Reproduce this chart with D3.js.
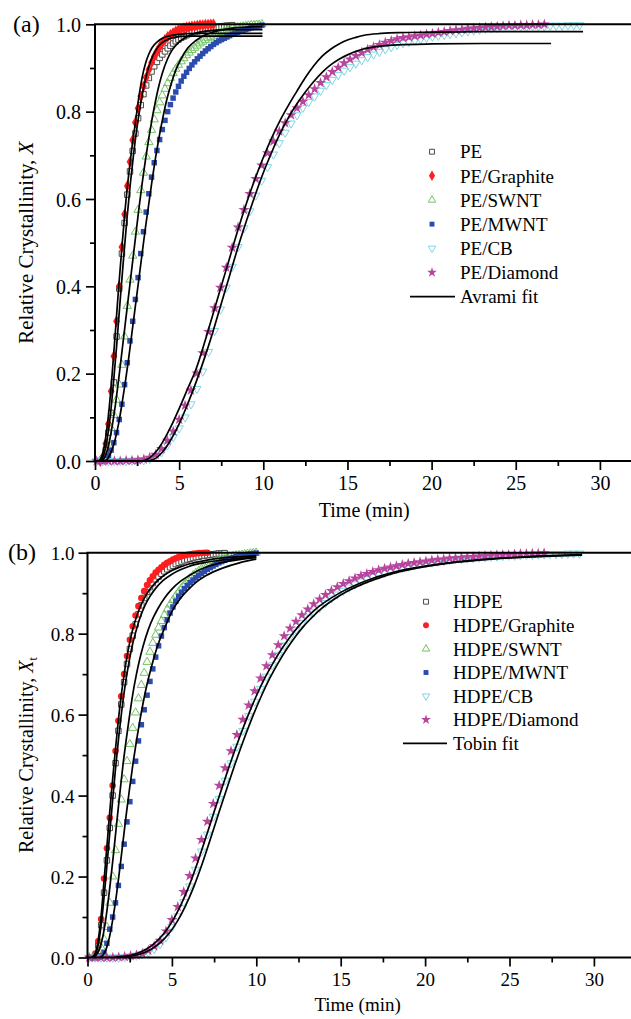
<!DOCTYPE html>
<html><head><meta charset="utf-8">
<script src="https://cdn.jsdelivr.net/npm/d3@7"></script>
<style>
html,body{margin:0;padding:0;background:#fff;}
svg{display:block;}
text{font-family:"Liberation Serif","Times New Roman",serif;fill:#000;}
</style></head><body>
<svg id="chart" width="631" height="1019"></svg>
<script>
// ---------- shared ticks ----------
const xMajorTicks = [0, 5, 10, 15, 20, 25, 30];
const xMinorTicks = [2.5, 7.5, 12.5, 17.5, 22.5, 27.5];
const yMajorTicks = [0.0, 0.2, 0.4, 0.6, 0.8, 1.0];
const yMinorTicks = [0.1, 0.3, 0.5, 0.7, 0.9];

// ---------- time grids ----------
const tFastA = [0.32,0.48,0.64,0.8,0.96,1.12,1.28,1.44,1.6,1.76,1.92,2.08,2.24,2.4,2.56,2.72,2.88,3.04,3.2,3.36,3.52,3.68,3.84,4.0,4.16,4.32,4.48,4.64,4.8,4.96,5.12,5.28,5.44,5.6,5.76,5.92,6.08,6.24,6.4,6.56,6.72,6.88,7.04,7.2,7.36,7.52,7.68,7.84,8.0,8.16,8.32,8.48,8.64,8.8,8.96,9.12,9.28,9.44,9.6,9.76,9.92];
const tSlow = [0.1,0.45,0.8,1.15,1.5,1.85,2.2,2.55,2.9,3.25,3.6,3.95,4.3,4.65,5.0,5.35,5.7,6.05,6.4,6.75,7.1,7.45,7.8,8.15,8.5,8.85,9.2,9.55,9.9,10.25,10.6,10.95,11.3,11.65,12.0,12.35,12.7,13.05,13.4,13.75,14.1,14.45,14.8,15.15,15.5,15.85,16.2,16.55,16.9,17.25,17.6,17.95,18.3,18.65,19.0,19.35,19.7,20.05,20.4,20.75,21.1,21.45,21.8,22.15,22.5,22.85,23.2,23.55,23.9,24.25,24.6,24.95,25.3,25.65,26.0,26.35,26.7,27.05,27.4,27.75,28.1,28.45,28.8,29.15];

// ---------- panel (a): measured X ----------
const peA = [0.0,0.005,0.025,0.065,0.11,0.18,0.285,0.395,0.475,0.545,0.61,0.663,0.71,0.75,0.785,0.815,0.84,0.86,0.877,0.892,0.904,0.914,0.923,0.931,0.938,0.945,0.951,0.956,0.961,0.965,0.969,0.972,0.975,0.978,0.98,0.982,0.984,0.986,0.987,0.989,0.99,0.991,0.992,0.993,0.994,0.995,0.996,0.997,0.997,0.998];
const graphiteA = [0.0,0.01,0.04,0.085,0.16,0.24,0.32,0.4,0.49,0.565,0.63,0.685,0.735,0.775,0.808,0.835,0.858,0.878,0.896,0.912,0.926,0.938,0.948,0.957,0.965,0.971,0.976,0.98,0.984,0.987,0.989,0.991,0.993,0.994,0.995,0.996,0.997,0.998,0.998,0.999,0.999,1.0,1.0];
const swntA = [0,0.002,0.015,0.04,0.075,0.105,0.14,0.175,0.22,0.285,0.355,0.415,0.47,0.525,0.575,0.62,0.66,0.697,0.73,0.758,0.782,0.803,0.821,0.837,0.852,0.865,0.877,0.888,0.898,0.907,0.915,0.922,0.929,0.935,0.941,0.946,0.951,0.956,0.96,0.964,0.968,0.971,0.974,0.977,0.98,0.982,0.984,0.986,0.988,0.99,0.991,0.993,0.994,0.995,0.996,0.997,0.998,0.998,0.999,0.999,1.0];
const mwntA = [0,0,0.004,0.012,0.025,0.042,0.065,0.095,0.13,0.175,0.225,0.275,0.32,0.37,0.42,0.475,0.525,0.57,0.612,0.65,0.683,0.711,0.736,0.759,0.78,0.8,0.816,0.831,0.845,0.858,0.87,0.881,0.89,0.899,0.907,0.914,0.921,0.927,0.933,0.939,0.944,0.949,0.954,0.958,0.962,0.965,0.968,0.971,0.974,0.977,0.979,0.982,0.984,0.986,0.988,0.99,0.992,0.993,0.995,0.996,0.998];
const cbA = [0,0,0,0,0,0,0.001,0.001,0.002,0.005,0.01,0.02,0.036,0.055,0.075,0.1,0.13,0.165,0.205,0.25,0.298,0.347,0.397,0.445,0.49,0.533,0.572,0.608,0.642,0.673,0.702,0.728,0.752,0.773,0.792,0.809,0.822,0.835,0.848,0.861,0.873,0.884,0.894,0.902,0.91,0.918,0.925,0.931,0.937,0.943,0.948,0.953,0.957,0.96,0.963,0.966,0.969,0.972,0.974,0.976,0.978,0.98,0.982,0.984,0.986,0.988,0.99,0.991,0.992,0.993,0.994,0.994,0.995,0.995,0.996,0.996,0.996,0.997,0.997,0.997,0.998,0.998,0.998];
const diamondA = [0,0,0,0,0,0.001,0.001,0.002,0.004,0.008,0.015,0.028,0.047,0.068,0.095,0.127,0.162,0.201,0.247,0.296,0.35,0.397,0.443,0.489,0.535,0.575,0.612,0.646,0.677,0.705,0.732,0.755,0.774,0.792,0.808,0.823,0.838,0.852,0.866,0.879,0.891,0.901,0.911,0.92,0.928,0.935,0.942,0.948,0.953,0.958,0.962,0.966,0.969,0.971,0.973,0.975,0.977,0.979,0.981,0.983,0.985,0.987,0.988,0.99,0.991,0.992,0.993,0.994,0.995,0.996,0.997,0.997,0.998,0.998,0.999,0.999,1.0];

// ---------- panel (a): Avrami fits ----------
const fitGraphiteA_t = [0.25,0.4,0.6,0.8,1.0,1.2,1.4,1.6,1.8,2.0,2.2,2.4,2.6,2.8,3.0,3.2,3.4,3.7,4.0,4.5,5.0,6.0,9.95];
const fitGraphiteA_x = [0,0.01,0.045,0.105,0.19,0.29,0.395,0.49,0.58,0.655,0.72,0.775,0.832,0.878,0.91,0.932,0.947,0.96,0.968,0.974,0.977,0.979,0.979];
const fitPEA_t = [0.3,0.5,0.7,0.9,1.1,1.3,1.5,1.7,1.9,2.1,2.3,2.5,2.7,2.9,3.1,3.3,3.5,3.8,4.2,4.7,5.5,9.95];
const fitPEA_x = [0,0.012,0.045,0.1,0.18,0.27,0.37,0.465,0.555,0.635,0.705,0.765,0.815,0.857,0.89,0.915,0.933,0.951,0.963,0.97,0.973,0.973];
const fitSwntA_t = [0.4,0.6,0.8,1.0,1.2,1.4,1.6,1.8,2.0,2.2,2.4,2.6,2.8,3.0,3.2,3.4,3.6,3.8,4.0,4.3,4.6,5.0,5.5,6.0,7.0,8.0,9.95];
const fitSwntA_x = [0,0.01,0.035,0.075,0.125,0.185,0.25,0.315,0.38,0.445,0.51,0.575,0.635,0.69,0.74,0.785,0.825,0.86,0.888,0.92,0.942,0.96,0.972,0.98,0.986,0.988,0.988];
const fitMwntA_t = [0.6,0.8,1.0,1.2,1.4,1.6,1.8,2.0,2.2,2.4,2.6,2.8,3.0,3.2,3.4,3.6,3.8,4.0,4.25,4.5,4.8,5.1,5.5,6.0,6.5,7.0,8.0,9.95];
const fitMwntA_x = [0,0.008,0.025,0.05,0.085,0.13,0.18,0.235,0.295,0.355,0.415,0.475,0.535,0.59,0.645,0.695,0.74,0.78,0.825,0.86,0.895,0.92,0.945,0.963,0.975,0.982,0.99,0.995];
const fitSlow1A_t = [2.8,3.2,3.6,4.0,4.5,5.0,5.5,6.0,6.5,7.0,7.5,8.0,8.5,9.0,9.5,10.0,10.5,11.0,11.5,12.0,12.5,13.0,13.5,14.0,14.5,15.0,15.5,16.0,17.0,18.0,20.0,23.0,29.0];
const fitSlow1A_x = [0,0.006,0.02,0.042,0.078,0.12,0.165,0.21,0.27,0.335,0.4,0.465,0.53,0.59,0.645,0.695,0.74,0.78,0.815,0.847,0.878,0.905,0.927,0.943,0.955,0.964,0.97,0.975,0.979,0.981,0.982,0.983,0.983];
const fitSlow2A_t = [3.2,3.6,4.0,4.5,5.0,5.5,6.0,6.5,7.0,7.5,8.0,8.5,9.0,9.5,10.0,10.5,11.0,11.5,12.0,12.5,13.0,13.5,14.0,14.5,15.0,15.5,16.0,17.0,18.0,20.0,23.0,27.1];
const fitSlow2A_x = [0,0.006,0.02,0.048,0.085,0.13,0.18,0.235,0.295,0.36,0.425,0.49,0.55,0.607,0.66,0.707,0.75,0.787,0.818,0.845,0.869,0.89,0.907,0.92,0.93,0.938,0.944,0.95,0.953,0.955,0.956,0.956];

// ---------- panel (b): time grid ----------
const tFastB = [0.3,0.47,0.64,0.81,0.98,1.15,1.32,1.49,1.66,1.83,2.0,2.17,2.34,2.51,2.68,2.85,3.02,3.19,3.36,3.53,3.7,3.87,4.04,4.21,4.38,4.55,4.72,4.89,5.06,5.23,5.4,5.57,5.74,5.91,6.08,6.25,6.42,6.59,6.76,6.93,7.1,7.27,7.44,7.61,7.78,7.95,8.12,8.29,8.46,8.63,8.8,8.97,9.14,9.31,9.48,9.65,9.82,9.99];

// ---------- panel (b): measured X ----------
const hdpeB = [0.0,0.005,0.03,0.08,0.16,0.24,0.32,0.40,0.48,0.56,0.625,0.68,0.725,0.762,0.795,0.823,0.848,0.87,0.888,0.903,0.915,0.925,0.934,0.941,0.948,0.954,0.959,0.964,0.968,0.972,0.975,0.978,0.981,0.983,0.985,0.987,0.989,0.99,0.992,0.993,0.994,0.995,0.996,0.997,0.998,0.998,0.999];
const graphiteB = [0.0,0.01,0.04,0.095,0.195,0.27,0.345,0.425,0.51,0.585,0.645,0.70,0.745,0.785,0.818,0.845,0.868,0.888,0.905,0.92,0.932,0.942,0.951,0.958,0.964,0.97,0.975,0.979,0.983,0.986,0.989,0.991,0.993,0.995,0.996,0.997,0.998,0.999,0.999,1.0,1.0];
const swntB = [0,0.003,0.01,0.025,0.045,0.075,0.135,0.2,0.265,0.33,0.39,0.44,0.485,0.527,0.567,0.605,0.64,0.673,0.703,0.73,0.755,0.777,0.797,0.815,0.831,0.846,0.86,0.872,0.883,0.894,0.904,0.913,0.922,0.93,0.937,0.944,0.95,0.955,0.96,0.965,0.969,0.973,0.976,0.979,0.982,0.984,0.986,0.988,0.99,0.992,0.993,0.994,0.995,0.996,0.997,0.998,0.999,1.0];
const mwntB = [0,0,0.001,0.004,0.012,0.035,0.07,0.1,0.135,0.178,0.225,0.28,0.335,0.385,0.435,0.485,0.535,0.575,0.612,0.648,0.682,0.713,0.742,0.77,0.794,0.815,0.834,0.851,0.866,0.88,0.892,0.902,0.911,0.919,0.926,0.932,0.938,0.944,0.949,0.954,0.959,0.963,0.967,0.971,0.975,0.978,0.981,0.984,0.986,0.988,0.99,0.992,0.994,0.995,0.996,0.997,0.998,0.999];
const cbB = [0,0,0,0,0,0,0.001,0.003,0.005,0.008,0.013,0.021,0.033,0.05,0.075,0.102,0.137,0.176,0.217,0.262,0.304,0.348,0.392,0.437,0.48,0.521,0.56,0.597,0.632,0.664,0.694,0.722,0.748,0.771,0.792,0.81,0.826,0.84,0.853,0.864,0.876,0.887,0.897,0.906,0.914,0.922,0.929,0.935,0.941,0.946,0.951,0.955,0.959,0.963,0.966,0.969,0.972,0.974,0.976,0.978,0.98,0.982,0.984,0.985,0.986,0.987,0.988,0.989,0.99,0.991,0.992,0.993,0.993,0.994,0.995,0.995,0.996,0.996,0.997,0.997,0.997,0.998,0.998,0.998];
const diamondB = [0,0,0,0,0,0.001,0.002,0.004,0.006,0.01,0.017,0.028,0.042,0.065,0.093,0.125,0.162,0.202,0.245,0.291,0.336,0.38,0.425,0.468,0.51,0.55,0.588,0.623,0.658,0.69,0.72,0.747,0.772,0.794,0.813,0.83,0.846,0.86,0.873,0.885,0.896,0.906,0.915,0.923,0.93,0.937,0.943,0.948,0.953,0.957,0.961,0.964,0.967,0.97,0.973,0.975,0.977,0.979,0.981,0.983,0.984,0.986,0.987,0.988,0.989,0.99,0.991,0.992,0.993,0.994,0.995,0.995,0.996,0.997,0.997,0.998,0.998,0.999];

// ---------- panel (b): Tobin fits ----------
const fitGraphiteB_t = [0.2,0.4,0.6,0.8,1.0,1.2,1.4,1.6,1.8,2.0,2.2,2.4,2.6,2.8,3.0,3.3,3.6,4.0,4.5,5.0,5.5,6.0,7.0,8.0,9.0,10.0];
const fitGraphiteB_x = [0,0.006,0.035,0.1,0.2,0.3,0.4,0.49,0.575,0.648,0.708,0.757,0.797,0.828,0.853,0.882,0.904,0.925,0.943,0.956,0.965,0.972,0.981,0.987,0.99,0.992];
const fitHdpeB_t = [0.25,0.45,0.65,0.85,1.05,1.25,1.45,1.65,1.85,2.05,2.25,2.45,2.65,2.85,3.1,3.4,3.7,4.0,4.5,5.0,5.5,6.0,7.0,8.0,9.0,10.0];
const fitHdpeB_x = [0,0.006,0.035,0.095,0.18,0.275,0.37,0.462,0.545,0.617,0.678,0.728,0.77,0.803,0.838,0.869,0.892,0.91,0.932,0.947,0.958,0.966,0.976,0.982,0.986,0.989];
const fitSwntB_t = [0.3,0.5,0.7,0.9,1.1,1.3,1.5,1.7,1.9,2.1,2.3,2.5,2.7,2.9,3.1,3.3,3.6,3.9,4.2,4.6,5.0,5.5,6.0,6.5,7.0,8.0,9.0,10.0];
const fitSwntB_x = [0,0.005,0.02,0.05,0.1,0.165,0.24,0.32,0.4,0.475,0.54,0.6,0.655,0.7,0.738,0.77,0.81,0.84,0.864,0.89,0.91,0.929,0.943,0.955,0.964,0.976,0.983,0.988];
const fitMwntB_t = [0.7,0.9,1.1,1.3,1.5,1.7,1.9,2.1,2.3,2.5,2.7,2.9,3.1,3.3,3.5,3.75,4.0,4.3,4.6,5.0,5.5,6.0,6.5,7.0,8.0,9.0,10.0];
const fitMwntB_x = [0,0.005,0.02,0.05,0.095,0.15,0.215,0.285,0.355,0.42,0.48,0.535,0.585,0.63,0.67,0.712,0.75,0.787,0.817,0.855,0.887,0.91,0.929,0.943,0.962,0.975,0.984];
const fitSlow1B_t = [1.6,2.0,2.5,3.0,3.5,4.0,4.5,5.0,5.5,6.0,6.5,7.0,7.5,8.0,8.5,9.0,9.5,10.0,10.5,11.0,11.5,12.0,12.5,13.0,13.5,14.0,15.0,16.0,17.0,18.0,19.0,20.0,22.0,24.0,26.0,29.3];
const fitSlow1B_x = [0,0.002,0.005,0.011,0.021,0.036,0.058,0.088,0.127,0.175,0.232,0.295,0.36,0.423,0.485,0.543,0.597,0.646,0.69,0.728,0.762,0.792,0.818,0.84,0.86,0.876,0.902,0.922,0.938,0.95,0.96,0.967,0.978,0.985,0.99,0.995];
const fitSlow2B_t = [1.9,2.3,2.8,3.3,3.8,4.3,4.8,5.3,5.8,6.3,6.8,7.3,7.8,8.3,8.8,9.3,9.8,10.3,10.8,11.3,11.8,12.3,12.8,13.3,13.8,14.5,15.5,16.5,17.5,18.5,19.5,21.0,23.0,25.0,27.0,29.3];
const fitSlow2B_x = [0,0.002,0.005,0.011,0.021,0.036,0.058,0.088,0.127,0.175,0.232,0.295,0.36,0.423,0.485,0.543,0.597,0.646,0.69,0.728,0.762,0.792,0.818,0.84,0.86,0.882,0.907,0.926,0.941,0.953,0.962,0.972,0.981,0.987,0.991,0.994];

// ---------- styles ----------
const colors = {pe:"#4a4a4a", graphite:"#ff1e1e", swnt:"#74c365", mwnt:"#2b4cae", cb:"#7fd6e4", diamond:"#b8449e"};

const svg = d3.select("#chart");

const downTriangle = {
  draw(ctx, size) {
    const s = Math.sqrt(size * 4 / Math.sqrt(3));
    const ht = s * Math.sqrt(3) / 2;
    ctx.moveTo(-s/2, -ht/3);
    ctx.lineTo(s/2, -ht/3);
    ctx.lineTo(0, 2*ht/3);
    ctx.closePath();
  }
};
const upTriangle = {
  draw(ctx, size) {
    const s = Math.sqrt(size * 4 / Math.sqrt(3));
    const ht = s * Math.sqrt(3) / 2;
    ctx.moveTo(-s/2, ht/3);
    ctx.lineTo(s/2, ht/3);
    ctx.lineTo(0, -2*ht/3);
    ctx.closePath();
  }
};

function markerStyle(key, graphiteShape) {
  switch (key) {
    case "pe": return {type: d3.symbolSquare, size: 30, fill: "#fff", stroke: colors.pe, sw: 1};
    case "graphite": return graphiteShape === "circle"
        ? {type: d3.symbolCircle, size: 34, fill: colors.graphite, stroke: "none", sw: 0}
        : {type: d3.symbolDiamond, size: 40, fill: colors.graphite, stroke: "none", sw: 0};
    case "swnt": return {type: upTriangle, size: 30, fill: "none", stroke: colors.swnt, sw: 1};
    case "mwnt": return {type: d3.symbolSquare, size: 30, fill: colors.mwnt, stroke: "none", sw: 0};
    case "cb": return {type: downTriangle, size: 30, fill: "none", stroke: colors.cb, sw: 1};
    case "diamond": return {type: d3.symbolStar, size: 38, fill: colors.diamond, stroke: "none", sw: 0};
  }
}

function drawPanel(p) {
  const g = svg.append("g");
  const x = d3.scaleLinear().domain([0, 32]).range([p.x0, p.x0 + 32 * p.pxPerMin]);
  const y = d3.scaleLinear().domain([0, 1]).range([p.yBottom, p.yTop]);
  const W = 631;

  p.series.forEach(s => {
    const st = markerStyle(s.key, p.graphiteShape);
    const sym = d3.symbol().type(st.type).size(st.size);
    g.append("g").selectAll("path").data(s.x.map((v, i) => [s.t[i], v]))
      .join("path")
      .attr("d", sym)
      .attr("transform", d => `translate(${x(d[0])},${y(d[1])})`)
      .attr("fill", st.fill).attr("stroke", st.stroke).attr("stroke-width", st.sw);
  });

  const line = d3.line().x(d => x(d[0])).y(d => y(d[1])).curve(d3.curveMonotoneX);
  p.fits.forEach(f => {
    g.append("path").datum(f.t.map((v, i) => [v, f.x[i]]))
      .attr("d", line).attr("fill", "none").attr("stroke", "#000").attr("stroke-width", 1.7);
  });

  const ax = g.append("g").attr("transform", `translate(0,${p.yBottom})`)
    .call(d3.axisBottom(x).tickValues(xMajorTicks).tickSize(9).tickPadding(6).tickFormat(d3.format("d")));
  const axm = g.append("g").attr("transform", `translate(0,${p.yBottom})`)
    .call(d3.axisBottom(x).tickValues(xMinorTicks).tickSize(5).tickFormat(""));
  const ay = g.append("g").attr("transform", `translate(${p.x0},0)`)
    .call(d3.axisLeft(y).tickValues(yMajorTicks).tickSize(9).tickPadding(p.yPad).tickFormat(d3.format(".1f")));
  const aym = g.append("g").attr("transform", `translate(${p.x0},0)`)
    .call(d3.axisLeft(y).tickValues(yMinorTicks).tickSize(5).tickFormat(""));
  [ax, axm, ay, aym].forEach(a => {
    a.select(".domain").remove();
    a.selectAll(".tick line").attr("stroke", "#000").attr("stroke-width", 1.7);
    a.selectAll("text").attr("font-family", "Liberation Serif").attr("font-size", p.tickFont).attr("fill", "#000");
  });
  ay.selectAll(".tick text").attr("dy", "0.36em");

  g.append("line").attr("x1", p.x0 - 1).attr("x2", W).attr("y1", p.yBottom).attr("y2", p.yBottom)
    .attr("stroke", "#000").attr("stroke-width", 2);
  g.append("line").attr("x1", p.x0 - 1).attr("x2", W).attr("y1", p.yTop).attr("y2", p.yTop)
    .attr("stroke", "#000").attr("stroke-width", 2);
  g.append("line").attr("x1", p.x0).attr("x2", p.x0).attr("y1", p.yTop).attr("y2", p.yBottom)
    .attr("stroke", "#000").attr("stroke-width", 2);

  g.append("text").attr("x", x(16)).attr("y", p.xTitleY).attr("text-anchor", "middle")
    .attr("font-size", p.titleFont).text("Time (min)");
  const yt = g.append("text").attr("transform", `translate(${p.yTitleX},${(p.yTop + p.yBottom) / 2}) rotate(-90)`)
    .attr("text-anchor", "middle").attr("font-size", p.yTitleFont);
  yt.append("tspan").text("Relative Crystallinity, ");
  yt.append("tspan").attr("font-style", "italic").text("X");
  if (p.ySub) yt.append("tspan").attr("font-size", p.yTitleFont * 0.62).attr("dy", "0.35em").text(p.ySub);

  g.append("text").attr("x", p.labelX).attr("y", p.labelY).attr("font-size", 24).text(p.label);

  p.series.forEach((s, i) => {
    const st = markerStyle(s.key, p.graphiteShape);
    const cy = p.legY + i * p.legStep;
    g.append("path").attr("d", d3.symbol().type(st.type).size(st.size * 0.8))
      .attr("transform", `translate(${p.legMarkX},${cy})`)
      .attr("fill", st.fill).attr("stroke", st.stroke).attr("stroke-width", st.sw);
    g.append("text").attr("x", p.legTextX).attr("y", cy).attr("dy", "0.35em")
      .attr("font-size", p.legFont).text(s.name);
  });
  const cy = p.legY + p.series.length * p.legStep;
  g.append("line").attr("x1", p.legLine[0]).attr("x2", p.legLine[1]).attr("y1", cy).attr("y2", cy)
    .attr("stroke", "#000").attr("stroke-width", 1.8);
  g.append("text").attr("x", p.legTextX).attr("y", cy).attr("dy", "0.35em")
    .attr("font-size", p.legFont).text(p.fitName);
}

drawPanel({
  x0: 95, pxPerMin: 16.83, yTop: 24.3, yBottom: 461, yPad: 5, tickFont: 20, titleFont: 20, yTitleFont: 21,
  xTitleY: 517, yTitleX: 33, label: "(a)", labelX: 13, labelY: 32, graphiteShape: "diamond",
  series: [
    {key: "pe", name: "PE", t: tFastA, x: peA},
    {key: "graphite", name: "PE/Graphite", t: tFastA, x: graphiteA},
    {key: "swnt", name: "PE/SWNT", t: tFastA, x: swntA},
    {key: "mwnt", name: "PE/MWNT", t: tFastA, x: mwntA},
    {key: "cb", name: "PE/CB", t: tSlow, x: cbA},
    {key: "diamond", name: "PE/Diamond", t: tSlow, x: diamondA}
  ],
  fits: [
    {t: fitGraphiteA_t, x: fitGraphiteA_x}, {t: fitPEA_t, x: fitPEA_x},
    {t: fitSwntA_t, x: fitSwntA_x}, {t: fitMwntA_t, x: fitMwntA_x},
    {t: fitSlow1A_t, x: fitSlow1A_x}, {t: fitSlow2A_t, x: fitSlow2A_x}
  ],
  legY: 151.7, legStep: 24.15, legMarkX: 432, legTextX: 460, legLine: [410, 455], legFont: 19, fitName: "Avrami fit"
});

drawPanel({
  x0: 87.5, pxPerMin: 16.88, yTop: 552.7, yBottom: 957.5, yPad: 4, tickFont: 19, titleFont: 19, yTitleFont: 20,
  xTitleY: 1011, yTitleX: 33, label: "(b)", labelX: 8, labelY: 560, graphiteShape: "circle", ySub: "t",
  series: [
    {key: "pe", name: "HDPE", t: tFastB, x: hdpeB},
    {key: "graphite", name: "HDPE/Graphite", t: tFastB, x: graphiteB},
    {key: "swnt", name: "HDPE/SWNT", t: tFastB, x: swntB},
    {key: "mwnt", name: "HDPE/MWNT", t: tFastB, x: mwntB},
    {key: "cb", name: "HDPE/CB", t: tSlow, x: cbB},
    {key: "diamond", name: "HDPE/Diamond", t: tSlow, x: diamondB}
  ],
  fits: [
    {t: fitGraphiteB_t, x: fitGraphiteB_x}, {t: fitHdpeB_t, x: fitHdpeB_x},
    {t: fitSwntB_t, x: fitSwntB_x}, {t: fitMwntB_t, x: fitMwntB_x},
    {t: fitSlow1B_t, x: fitSlow1B_x}, {t: fitSlow2B_t, x: fitSlow2B_x}
  ],
  legY: 601.7, legStep: 23.6, legMarkX: 426, legTextX: 453, legLine: [403, 447], legFont: 19, fitName: "Tobin fit"
});
</script></body></html>
